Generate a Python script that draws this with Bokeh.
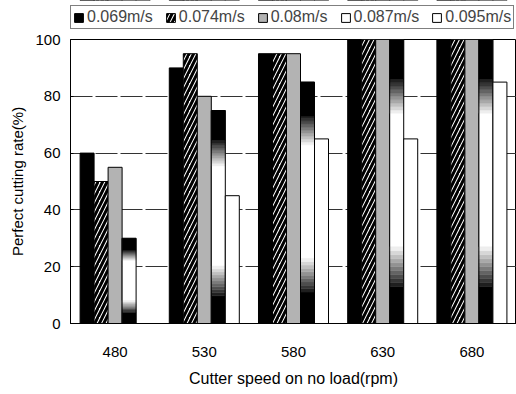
from bokeh.plotting import figure
from bokeh.layouts import column
from bokeh.models import ColumnDataSource, FactorRange, Legend, LegendItem, FixedTicker
from bokeh.transform import dodge
from bokeh.embed import file_html
from bokeh.resources import INLINE

# ---- data ----
speeds = ["480", "530", "580", "630", "680"]
series_names = ["0.069m/s", "0.074m/s", "0.08m/s", "0.087m/s", "0.095m/s"]
v069 = [60, 90, 95, 100, 100]
v074 = [50, 95, 95, 100, 100]
v080 = [55, 80, 95, 100, 100]
v087 = [30, 75, 85, 100, 100]
v095 = [0, 45, 65, 65, 85]
y_ticks = [0, 20, 40, 60, 80, 100]

FONT = "Liberation Sans"
W = 0.157
offsets = [-2 * W, -W, 0.0, W, 2 * W]

src = ColumnDataSource(dict(x=speeds, a=v069, b=v074, c=v080, d=v087, e=v095))

STYLES = [
    dict(fill_color="black", line_color="black"),
    dict(fill_color="white", line_color="black", hatch_pattern="right_diagonal_line",
         hatch_color="black", hatch_weight=3, hatch_scale=9),
    dict(fill_color="#b3b3b3", line_color="black"),
    dict(fill_color=None, line_color="black"),
    dict(fill_color="white", line_color="black"),
]
cols = ["a", "b", "c", "d", "e"]


def main_figure():
    p = figure(x_range=FactorRange(*speeds, range_padding=0), y_range=(0, 100),
               width=516, height=365, output_backend="svg", toolbar_location=None,
               min_border_left=70, min_border_right=0, min_border_top=10, min_border_bottom=71)
    p.background_fill_color = "white"
    p.border_fill_color = "white"
    p.outline_line_color = "black"
    p.outline_line_width = 1

    for i in range(3):
        p.vbar(x=dodge("x", offsets[i], range=p.x_range), top=cols[i], width=W,
               source=src, **STYLES[i])

    # series 4: gradient bars (black ends fading to white in the middle)
    p.vbar(x=dodge("x", offsets[3], range=p.x_range), top="d", width=W, source=src,
           fill_color="white", line_color=None)
    segs = [(0.0, 0.13, 0)]
    n = 10
    for k in range(n):
        segs.append((0.13 + 0.14 * k / n, 0.13 + 0.14 * (k + 1) / n,
                     int(20 + 230 * (k + 0.5) / n)))
    for k in range(n):
        segs.append((0.74 + 0.12 * k / n, 0.74 + 0.12 * (k + 1) / n,
                     int(250 - 230 * (k + 0.5) / n)))
    segs.append((0.86, 1.0, 0))
    gx, gb, gt, gc = [], [], [], []
    for s, v in zip(speeds, v087):
        for f0, f1, g in segs:
            gx.append(s)
            gb.append(v * f0)
            gt.append(v * f1)
            gc.append("#%02x%02x%02x" % (g, g, g))
    gsrc = ColumnDataSource(dict(x=gx, bot=gb, tp=gt, col=gc))
    p.vbar(x=dodge("x", offsets[3], range=p.x_range), bottom="bot", top="tp", width=W,
           source=gsrc, fill_color="col", line_color="col", line_width=0.5)
    p.vbar(x=dodge("x", offsets[3], range=p.x_range), top="d", width=W, source=src,
           **STYLES[3])
    p.vbar(x=dodge("x", offsets[4], range=p.x_range), top="e", width=W, source=src,
           **STYLES[4])

    p.xgrid.grid_line_color = None
    p.ygrid.grid_line_color = "#333333"
    p.ygrid.grid_line_dash = "22 3"
    p.ygrid.grid_line_width = 1
    p.yaxis.ticker = FixedTicker(ticks=y_ticks)

    for ax in (p.xaxis[0], p.yaxis[0]):
        ax.axis_line_color = "black"
        ax.major_label_text_font = FONT
        ax.major_label_text_font_size = "15px"
        ax.major_label_text_color = "black"
        ax.axis_label_text_font = FONT
        ax.axis_label_text_font_size = "15px"
        ax.axis_label_text_font_style = "normal"
        ax.axis_label_text_color = "black"
        ax.minor_tick_line_color = None

    p.xaxis.major_tick_line_color = None
    p.xaxis.major_label_standoff = 17
    p.xaxis.axis_label = "Cutter speed on no load(rpm)"
    p.xaxis.axis_label_text_font_size = "16px"
    p.xaxis.axis_label_standoff = 10

    p.yaxis.major_tick_in = 3
    p.yaxis.major_tick_out = 0
    p.yaxis.major_label_standoff = 10
    p.yaxis.axis_label = "Perfect cutting rate(%)"
    p.yaxis.axis_label_standoff = 6
    return p


def legend_figure():
    # small strip holding the legend; its bars lie outside its visible range
    q = figure(x_range=FactorRange(*speeds, range_padding=0), y_range=(-20, -10),
               width=516, height=29, output_backend="svg", toolbar_location=None,
               x_axis_type=None, y_axis_type=None,
               min_border_left=70, min_border_right=0, min_border_top=0, min_border_bottom=0)
    q.outline_line_color = None
    q.xgrid.grid_line_color = None
    q.ygrid.grid_line_color = None
    rs = [q.vbar(x=dodge("x", offsets[i], range=q.x_range), top=cols[i], width=W,
                 source=src, **STYLES[i]) for i in range(5)]
    leg = Legend(items=[LegendItem(label=n_, renderers=[r]) for n_, r in zip(series_names, rs)],
                 orientation="horizontal", location=(0, 0),
                 border_line_color="black", border_line_width=1,
                 label_text_font=FONT, label_text_font_size="16px",
                 glyph_width=11, glyph_height=11, label_standoff=3, label_height=18,
                 spacing=12, padding=2, margin=0)
    q.add_layout(leg, "center")
    return q


layout = column(legend_figure(), main_figure(), spacing=0)
open("out.html", "w").write(file_html(layout, INLINE))
